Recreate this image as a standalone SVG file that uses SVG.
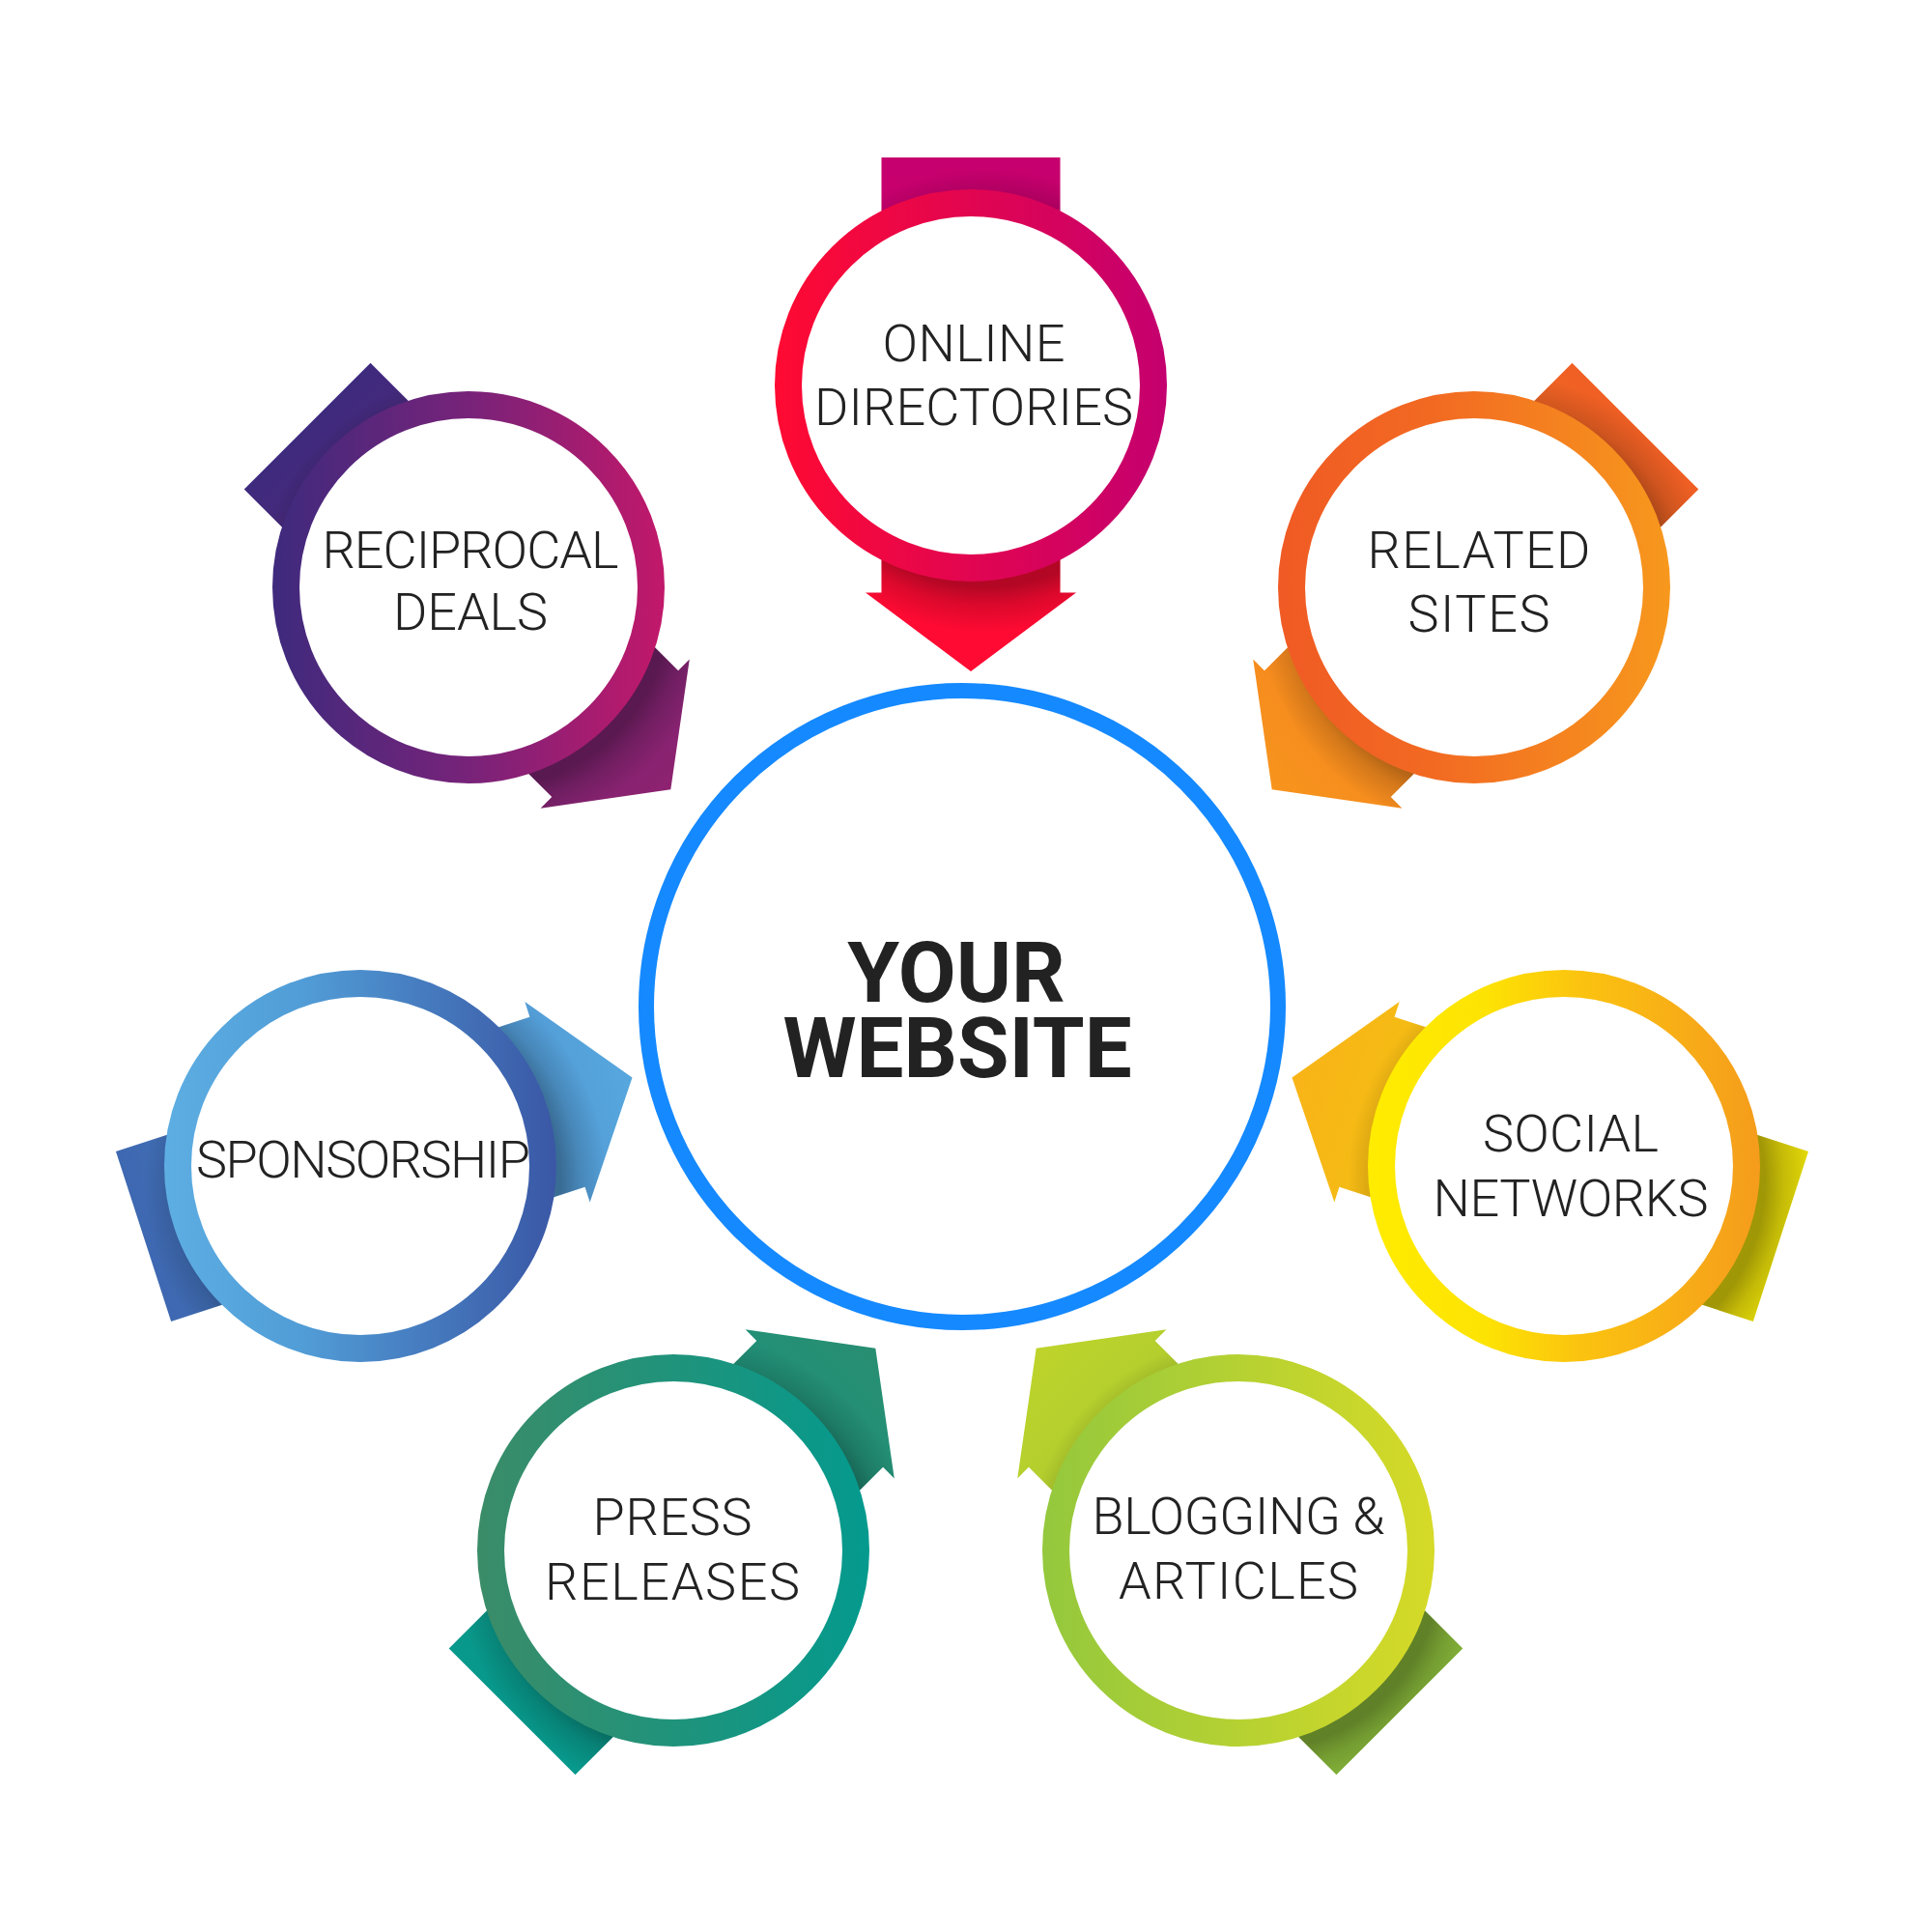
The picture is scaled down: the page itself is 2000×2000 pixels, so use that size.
<svg xmlns="http://www.w3.org/2000/svg" xmlns:xlink="http://www.w3.org/1999/xlink" width="2000" height="2000" viewBox="0 0 2000 2000">
<style>
.lbl{font-family:Roboto,"Liberation Sans",sans-serif;font-size:54px;fill:#222;text-anchor:middle;font-weight:300}
.big{font-family:Roboto,"Liberation Sans",sans-serif;font-size:87px;fill:#222;text-anchor:middle;font-weight:700}
.ring{stroke-width:28;fill:#fff}
</style>
<defs>
<path id="arrowShape" d="M-92.5,-236 H92.5 V214.5 H109 L0,296 L-109,214.5 H-92.5 Z"/>
<clipPath id="arrowClip" clipPathUnits="userSpaceOnUse"><use xlink:href="#arrowShape"/></clipPath>
<radialGradient id="shadow" gradientUnits="userSpaceOnUse" cx="0" cy="0" r="240">
<stop offset="0.8" stop-color="#000" stop-opacity="0.3"/>
<stop offset="0.88" stop-color="#000" stop-opacity="0.14"/>
<stop offset="1" stop-color="#000" stop-opacity="0"/>
</radialGradient>
<linearGradient id="r1" gradientUnits="userSpaceOnUse" x1="-203" y1="0" x2="203" y2="0"><stop offset="0" stop-color="#FF0A32"/><stop offset="1" stop-color="#C4006F"/></linearGradient>
<linearGradient id="a1" gradientUnits="userSpaceOnUse" x1="0" y1="-236" x2="0" y2="296"><stop offset="0" stop-color="#C6006E"/><stop offset="0.3" stop-color="#C8006C"/><stop offset="0.75" stop-color="#FF0A34"/><stop offset="1" stop-color="#FF0A32"/></linearGradient>
<linearGradient id="r2" gradientUnits="userSpaceOnUse" x1="-203" y1="0" x2="203" y2="0"><stop offset="0" stop-color="#3E2A7D"/><stop offset="0.5" stop-color="#772379"/><stop offset="1" stop-color="#C2186A"/></linearGradient>
<linearGradient id="a2" gradientUnits="userSpaceOnUse" x1="0" y1="-236" x2="0" y2="296"><stop offset="0" stop-color="#3E2A7D"/><stop offset="1" stop-color="#8E2270"/></linearGradient>
<linearGradient id="r3" gradientUnits="userSpaceOnUse" x1="-203" y1="0" x2="203" y2="0"><stop offset="0" stop-color="#F05A24"/><stop offset="0.4" stop-color="#F26A22"/><stop offset="1" stop-color="#F7981D"/></linearGradient>
<linearGradient id="a3" gradientUnits="userSpaceOnUse" x1="0" y1="-236" x2="0" y2="296"><stop offset="0" stop-color="#F05F24"/><stop offset="1" stop-color="#F7941D"/></linearGradient>
<linearGradient id="r4" gradientUnits="userSpaceOnUse" x1="-203" y1="0" x2="203" y2="0"><stop offset="0" stop-color="#FFEC00"/><stop offset="0.3" stop-color="#FDE303"/><stop offset="0.55" stop-color="#FBC210"/><stop offset="1" stop-color="#F59C1C"/></linearGradient>
<linearGradient id="a4" gradientUnits="userSpaceOnUse" x1="0" y1="-236" x2="0" y2="296"><stop offset="0" stop-color="#E4DA08"/><stop offset="1" stop-color="#F9B417"/></linearGradient>
<linearGradient id="r5" gradientUnits="userSpaceOnUse" x1="-203" y1="0" x2="203" y2="0"><stop offset="0" stop-color="#5DAEE3"/><stop offset="0.35" stop-color="#519DD7"/><stop offset="1" stop-color="#3A57A5"/></linearGradient>
<linearGradient id="a5" gradientUnits="userSpaceOnUse" x1="0" y1="-236" x2="0" y2="296"><stop offset="0" stop-color="#3E68B1"/><stop offset="1" stop-color="#57A7DE"/></linearGradient>
<linearGradient id="r6" gradientUnits="userSpaceOnUse" x1="-203" y1="0" x2="203" y2="0"><stop offset="0" stop-color="#3B8C68"/><stop offset="1" stop-color="#049A8E"/></linearGradient>
<linearGradient id="a6" gradientUnits="userSpaceOnUse" x1="0" y1="-236" x2="0" y2="296"><stop offset="0" stop-color="#07998C"/><stop offset="1" stop-color="#288E72"/></linearGradient>
<linearGradient id="r7" gradientUnits="userSpaceOnUse" x1="-203" y1="0" x2="203" y2="0"><stop offset="0" stop-color="#94C83D"/><stop offset="1" stop-color="#D6DA27"/></linearGradient>
<linearGradient id="a7" gradientUnits="userSpaceOnUse" x1="0" y1="-236" x2="0" y2="296"><stop offset="0" stop-color="#86B63A"/><stop offset="1" stop-color="#BED42B"/></linearGradient>
</defs>
<rect width="2000" height="2000" fill="#fff"/>

<g id="connectors"></g>

<g id="center">
<circle cx="996" cy="1042" r="327" fill="#fff" stroke="#1589FF" stroke-width="16"/>
<text class="big"><tspan x="990" y="1037">YOUR</tspan><tspan x="991" y="1115">WEBSITE</tspan></text>
</g>

<g id="online-directories" transform="translate(1005,399)">
<g transform="rotate(0)"><use xlink:href="#arrowShape" fill="url(#a1)"/><g clip-path="url(#arrowClip)"><circle transform="rotate(0) translate(16,16)" r="240" fill="url(#shadow)"/></g></g>
<circle class="ring" r="189" stroke="url(#r1)"/>
<text class="lbl" x="3" y="-25" textLength="189" lengthAdjust="spacing">ONLINE</text>
<text class="lbl" x="3" y="41" textLength="330" lengthAdjust="spacing">DIRECTORIES</text>
</g>

<g id="reciprocal-deals" transform="translate(485,608)">
<g transform="rotate(-45)"><use xlink:href="#arrowShape" fill="url(#a2)"/><g clip-path="url(#arrowClip)"><circle transform="rotate(45) translate(16,16)" r="240" fill="url(#shadow)"/></g></g>
<circle class="ring" r="189" stroke="url(#r2)"/>
<text class="lbl" x="2" y="-20" textLength="307" lengthAdjust="spacing">RECIPROCAL</text>
<text class="lbl" x="2" y="44" textLength="160" lengthAdjust="spacing">DEALS</text>
</g>

<g id="related-sites" transform="translate(1526,608)">
<g transform="rotate(45)"><use xlink:href="#arrowShape" fill="url(#a3)"/><g clip-path="url(#arrowClip)"><circle transform="rotate(-45) translate(16,16)" r="240" fill="url(#shadow)"/></g></g>
<circle class="ring" r="189" stroke="url(#r3)"/>
<text class="lbl" x="5" y="-20" textLength="231" lengthAdjust="spacing">RELATED</text>
<text class="lbl" x="5" y="46" textLength="147" lengthAdjust="spacing">SITES</text>
</g>

<g id="social-networks" transform="translate(1619,1207)">
<g transform="rotate(108)"><use xlink:href="#arrowShape" fill="url(#a4)"/><g clip-path="url(#arrowClip)"><circle transform="rotate(-108) translate(16,16)" r="240" fill="url(#shadow)"/></g></g>
<circle class="ring" r="189" stroke="url(#r4)"/>
<text class="lbl" x="7" y="-15" textLength="182" lengthAdjust="spacing">SOCIAL</text>
<text class="lbl" x="7" y="52" textLength="285" lengthAdjust="spacing">NETWORKS</text>
</g>

<g id="sponsorship" transform="translate(373,1207)">
<g transform="rotate(-108)"><use xlink:href="#arrowShape" fill="url(#a5)"/><g clip-path="url(#arrowClip)"><circle transform="rotate(108) translate(16,16)" r="240" fill="url(#shadow)"/></g></g>
<circle class="ring" r="189" stroke="url(#r5)"/>
<text class="lbl" x="3" y="12" textLength="346" lengthAdjust="spacing">SPONSORSHIP</text>
</g>

<g id="press-releases" transform="translate(697,1605)">
<g transform="rotate(-135)"><use xlink:href="#arrowShape" fill="url(#a6)"/><g clip-path="url(#arrowClip)"><circle transform="rotate(135) translate(16,16)" r="240" fill="url(#shadow)"/></g></g>
<circle class="ring" r="189" stroke="url(#r6)"/>
<text class="lbl" x="-1" y="-16" textLength="165" lengthAdjust="spacing">PRESS</text>
<text class="lbl" x="-1" y="51" textLength="264" lengthAdjust="spacing">RELEASES</text>
</g>

<g id="blogging-articles" transform="translate(1282,1605)">
<g transform="rotate(135)"><use xlink:href="#arrowShape" fill="url(#a7)"/><g clip-path="url(#arrowClip)"><circle transform="rotate(-135) translate(16,16)" r="240" fill="url(#shadow)"/></g></g>
<circle class="ring" r="189" stroke="url(#r7)"/>
<text class="lbl" x="0" y="-17" textLength="303" lengthAdjust="spacing">BLOGGING &amp;</text>
<text class="lbl" x="0" y="50" textLength="248" lengthAdjust="spacing">ARTICLES</text>
</g>
</svg>
